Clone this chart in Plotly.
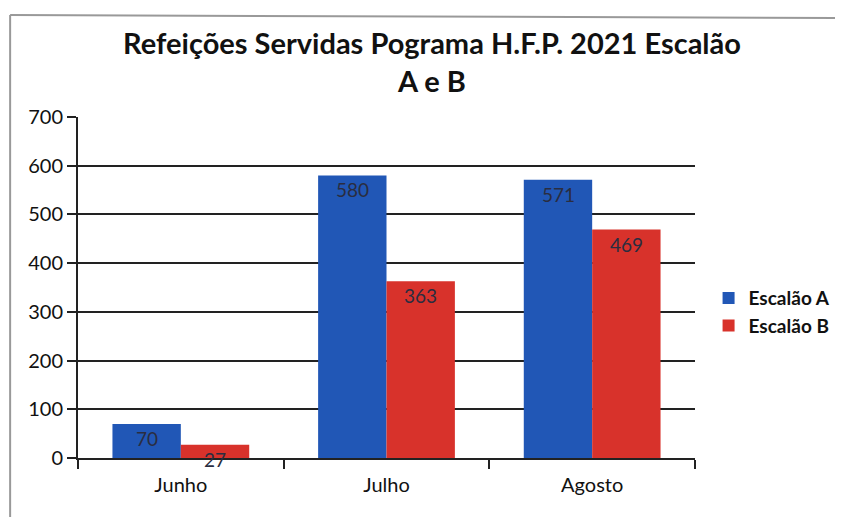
import plotly.graph_objects as go

meses = ["Junho", "Julho", "Agosto"]
escalao_a = [70, 580, 571]
escalao_b = [27, 363, 469]
y_ticks = [0, 100, 200, 300, 400, 500, 600, 700]

fig = go.Figure()

fig.add_trace(go.Bar(x=meses, y=escalao_a, name="Escalão A", marker=dict(color="#2157b6", line=dict(width=0))))
fig.add_trace(go.Bar(x=meses, y=escalao_b, name="Escalão B", marker=dict(color="#d8322b", line=dict(width=0))))

# data labels, inside end like excel
for i, vals in enumerate([escalao_a, escalao_b]):
    for m, v in zip(meses, vals):
        fig.add_annotation(
            x=m, y=v, xref="x", yref="y", text=str(v), showarrow=False,
            xshift=-34 if i == 0 else 34, yanchor="top", yshift=-1,
            font=dict(family="Lato", size=19, color="#2a2d40"),
        )

fig.update_layout(
    width=843, height=517,
    margin=dict(l=70, r=156, t=109, b=67),
    paper_bgcolor="white", plot_bgcolor="white",
    barmode="group", bargap=0.335, bargroupgap=0,
    title=dict(
        text="<b>Refeições Servidas Pograma H.F.P. 2021 Escalão<br>A e B</b>",
        x=0.503, xanchor="center", y=0.911, yanchor="top",
        font=dict(family="Lato", size=29, color="#111"),
    ),
    font=dict(family="Lato", size=19, color="#111"),
    legend=dict(x=1.022, y=0.428, xanchor="left", yanchor="middle",
                font=dict(family="Lato", size=19, color="#111", weight="bold"),
                itemwidth=30, tracegroupgap=0),
    showlegend=True,
    xaxis=dict(showline=True, linecolor="#222", linewidth=2, ticks="outside", tickson="boundaries",
               ticklen=9, tickwidth=2, tickcolor="#222", showgrid=False, ticklabelstandoff=8,
               tickfont=dict(size=20, color="#111")),
    yaxis=dict(range=[0, 700], tickvals=y_ticks, showline=True, linecolor="#222", linewidth=2,
               ticks="outside", ticklen=9, tickwidth=2, tickcolor="#222",
               showgrid=True, gridcolor="#222", gridwidth=1.8, zeroline=False,
               tickfont=dict(size=20, color="#111")),
    shapes=[
        dict(type="line", xref="paper", yref="paper", x0=-0.11, x1=1.27, y0=1.299, y1=1.29,
             line=dict(color="#999", width=2)),
        dict(type="line", xref="paper", yref="paper", x0=-0.11, x1=-0.11, y0=1.299, y1=-0.2,
             line=dict(color="#999", width=2)),
    ],
)

fig.write_html("out.html")
